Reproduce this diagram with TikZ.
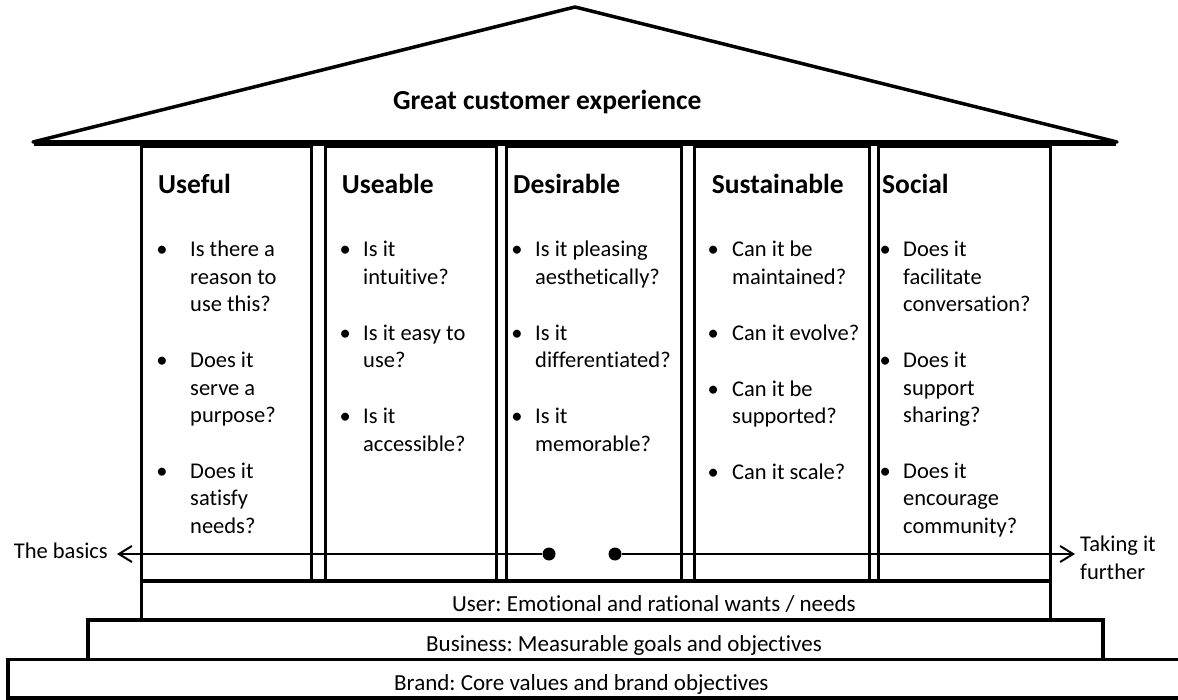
\documentclass[tikz,border=0pt]{standalone}
\usepackage{fontspec}
\setmainfont{Carlito}[Ligatures=NoCommon]
\usetikzlibrary{arrows.meta}
\frenchspacing
% bullet list for one pillar: #1 = gap between bullet and text, #2 = rows
\newcommand\pillarlist[2]{\begin{tabular}[t]{@{}l@{\hspace{#1}}l@{}}#2\end{tabular}}
\newcommand\gapline{\\[28.6pt]}
\begin{document}
\begin{tikzpicture}[x=1pt,y=-1pt,
  wall/.style={draw=black,line width=3.5pt},
  roof/.style={draw=black,line width=3.5pt,line join=round},
  title/.style={anchor=base west,inner sep=0pt,font=\fontsize{27.5}{32}\selectfont\bfseries},
  body/.style={anchor=base west,inner sep=0pt,font=\fontsize{22.5}{27.4}\selectfont},
  steplabel/.style={anchor=base west,inner sep=0pt,font=\fontsize{23}{27}\selectfont},
  dotnode/.style={circle,fill=black,inner sep=0pt,minimum size=13pt},
  pointer/.style={line width=1.6pt,-{Straight Barb[length=13pt,width=16pt,line width=2pt]}}
]
\useasboundingbox (0,0) rectangle (1178,700);

% roof
\draw[roof] (33,142) -- (575,7) -- (1117,142) -- cycle;
\draw[line width=6.5pt] (34,143) -- (1116,143);
\node[title] (roofname) at (393,110) {Great customer experience};

% pillars
\draw[wall] (141.5,146) rectangle (311.5,581);
\draw[wall] (325.5,146) rectangle (496.5,581);
\draw[wall] (506.5,146) rectangle (681.5,581);
\draw[wall] (694.5,146) rectangle (869.5,581);
\draw[wall] (878.5,146) rectangle (1050.5,581);

% steps
\draw[wall] (141.5,581) rectangle (1050.5,620);
\draw[wall] (88,620) rectangle (1103,659.5);
\draw[wall] (8,659.5) rectangle (1195,698.2);

% pillar titles
\node[title] (useful) at (158,193.3) {Useful};
\node[title] (useable) at (341.7,193.3) {Useable};
\node[title] (desirable) at (513,193.3) {Desirable};
\node[title] (sustainable) at (711.7,193.3) {Sustainable};
\node[title] (social) at (882,193.3) {Social};

% pillar questions
\node[body] (usefulq) at (156.1,257) {\pillarlist{22.7pt}{%
  \textbullet & Is there a\\ & reason to\\ & use this?\gapline
  \textbullet & Does it\\ & serve a\\ & purpose?\gapline
  \textbullet & Does it\\ & satisfy\\ & needs?}};
\node[body] (useableq) at (339.4,257) {\pillarlist{12.4pt}{%
  \textbullet & Is it\\ & intuitive?\gapline
  \textbullet & Is it easy to\\ & use?\gapline
  \textbullet & Is it\\ & accessible?}};
\node[body] (desirableq) at (511.1,257) {\pillarlist{12.7pt}{%
  \textbullet & Is it pleasing\\ & aesthetically?\gapline
  \textbullet & Is it\\ & differentiated?\gapline
  \textbullet & Is it\\ & memorable?}};
\node[body] (sustainableq) at (707.4,257) {\pillarlist{13.4pt}{%
  \textbullet & Can it be\\ & maintained?\gapline
  \textbullet & Can it evolve?\gapline
  \textbullet & Can it be\\ & supported?\gapline
  \textbullet & Can it scale?}};
\node[body] (socialq) at (879.4,257) {\pillarlist{12.4pt}{%
  \textbullet & Does it\\ & facilitate\\ & conversation?\gapline
  \textbullet & Does it\\ & support\\ & sharing?\gapline
  \textbullet & Does it\\ & encourage\\ & community?}};

% step labels
\node[steplabel] (user) at (452,611.7) {User: Emotional and rational wants / needs};
\node[steplabel] (business) at (426,651) {Business: Measurable goals and objectives};
\node[steplabel] (brand) at (394,690) {Brand: Core values and brand objectives};

% basics <-> further scale
\node[body,anchor=base east] (basics) at (108,558) {The basics};
\node[body] (further) at (1080,551.7) {\begin{tabular}[t]{@{}l@{}}Taking it\\further\end{tabular}};
\node[dotnode] (ldot) at (549,554) {};
\node[dotnode] (rdot) at (615,554) {};
\draw[pointer] (ldot) -- ([xshift=9pt]basics.east |- ldot);
\draw[pointer] (rdot) -- ([xshift=-5pt]further.west |- rdot);
\end{tikzpicture}
\end{document}
